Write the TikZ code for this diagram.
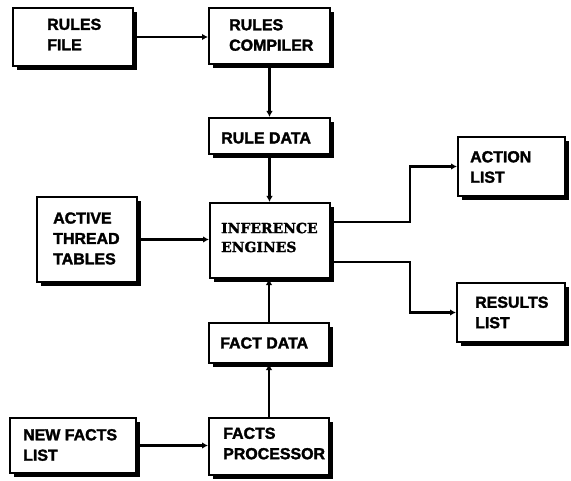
\documentclass[tikz,border=0pt]{standalone}
\usepackage{fontspec}
\usetikzlibrary{arrows.meta,shadows}
\newfontfamily\blocklabel{Liberation Sans}[BoldFeatures={FakeBold=2}]
\newfontfamily\enginefont{DejaVu Serif}[BoldFeatures={FakeBold=1.6}]

\tikzset{
  x=1bp, y=-1bp,
  blockbox/.style={draw, line width=2bp, fill=white, inner sep=0pt,
    drop shadow={shadow xshift=4bp, shadow yshift=-4bp, fill=black, opacity=1}},
  blocktext/.style={anchor=west, inner sep=0pt, align=left,
    font=\blocklabel\bfseries\fontsize{16}{20.5}\selectfont},
  enginetext/.style={anchor=west, inner sep=0pt, align=left,
    font=\enginefont\bfseries\fontsize{14}{19}\selectfont},
  link/.style={line width=2.3bp},
  feed/.style={link, -{Latex[length=6bp,width=6.5bp]}},
}

\begin{document}
\begin{tikzpicture}
  \fill[white] (0,0) rectangle (571,481);
  \useasboundingbox (0,0) rectangle (571,481);

  % blocks
  \node[blockbox, minimum width=120bp, minimum height=58bp] (rfile)   at (73,37)      {};
  \node[blockbox, minimum width=121bp, minimum height=56bp] (rcomp)   at (269.5,36)   {};
  \node[blockbox, minimum width=121bp, minimum height=36bp] (rdata)   at (269.5,136)  {};
  \node[blockbox, minimum width=120bp, minimum height=75bp] (infer)   at (270,240.5)  {};
  \node[blockbox, minimum width=100bp, minimum height=85bp] (active)  at (87,239.5)   {};
  \node[blockbox, minimum width=107bp, minimum height=59bp] (action)  at (511.5,166.5) {};
  \node[blockbox, minimum width=108bp, minimum height=59bp] (results) at (511,312.5)  {};
  \node[blockbox, minimum width=120bp, minimum height=40bp] (fdata)   at (269,343)    {};
  \node[blockbox, minimum width=120bp, minimum height=57bp] (fproc)   at (269,446.5)  {};
  \node[blockbox, minimum width=126bp, minimum height=55bp] (newf)    at (73,445.5)   {};

  % labels
  \node[blocktext]  (rfile-t)   at (47,34.5)   {RULES\\FILE};
  \node[blocktext]  (rcomp-t)   at (229,35)    {RULES\\COMPILER};
  \node[blocktext]  (rdata-t)   at (221,138)   {RULE DATA};
  \node[enginetext] (infer-t)   at (221,237.5) {INFERENCE\\ENGINES};
  \node[blocktext]  (active-t)  at (53,238.5)  {ACTIVE\\THREAD\\TABLES};
  \node[blocktext]  (action-t)  at (470,167)   {ACTION\\LIST};
  \node[blocktext]  (results-t) at (475,312.5) {RESULTS\\LIST};
  \node[blocktext]  (fdata-t)   at (220,343)   {FACT DATA};
  \node[blocktext]  (fproc-t)   at (223,443.5) {FACTS\\PROCESSOR};
  \node[blocktext]  (newf-t)    at (23,445)    {NEW FACTS\\LIST};

  % connectors
  \draw[feed] (rfile.east) -- (rfile.east -| rcomp.west);
  \draw[feed] (rcomp.south) -- (rcomp.south |- rdata.north);
  \draw[feed] (rdata.south) -- (rdata.south |- infer.north);
  \draw[feed] (active.east) -- (active.east -| infer.west);
  \draw[feed] ([yshift=18.5bp]infer.east) -- ++(79,0) |- (action.west);
  \draw[feed] ([yshift=-21.5bp]infer.east) -- ++(79,0) |- (results.west);
  \draw[feed] (fdata.north) -- (fdata.north |- infer.south);
  \draw[feed] (fproc.north) -- (fproc.north |- fdata.south);
  \draw[feed] (newf.east) -- (newf.east -| fproc.west);
\end{tikzpicture}
\end{document}
